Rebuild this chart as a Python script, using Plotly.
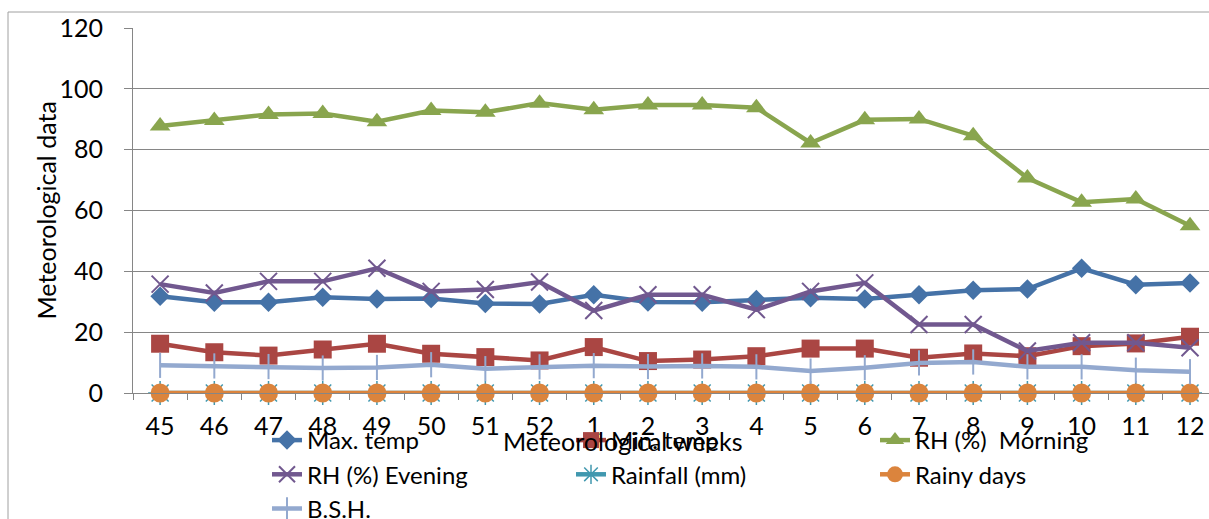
import plotly.graph_objects as go

weeks = ["45", "46", "47", "48", "49", "50", "51", "52", "1", "2", "3", "4",
         "5", "6", "7", "8", "9", "10", "11", "12"]
max_temp = [31.8, 29.8, 29.8, 31.5, 30.9, 31.1, 29.4, 29.3, 32.3, 29.9, 29.8, 30.7,
            31.3, 30.9, 32.3, 33.8, 34.2, 41.0, 35.6, 36.2]
min_temp = [16.2, 13.4, 12.3, 14.3, 16.2, 12.9, 11.8, 10.7, 15.1, 10.5, 11.0, 12.1,
            14.6, 14.6, 11.6, 13.0, 12.1, 15.4, 16.3, 18.5]
rh_morning = [87.8, 89.6, 91.6, 91.9, 89.2, 92.9, 92.3, 95.3, 93.1, 94.7, 94.7, 93.8,
              82.2, 89.8, 90.1, 84.6, 70.7, 62.7, 63.8, 55.0]
rh_evening = [35.8, 32.9, 36.7, 36.7, 41.0, 33.4, 34.0, 36.5, 27.1, 32.3, 32.3, 27.4,
              33.4, 36.2, 22.5, 22.5, 13.8, 16.5, 16.5, 14.9]
rainfall = [0] * 20
rainy_days = [0] * 20
bsh = [9.1, 8.9, 8.7, 8.2, 8.4, 9.3, 8.0, 8.6, 9.0, 8.7, 8.9, 8.6,
       7.2, 8.3, 9.9, 10.2, 8.6, 8.6, 7.5, 7.0]

FONT = "Lato, Roboto, Liberation Sans, Arial, sans-serif"
FS = 25
GRID = "#868686"

series = [
    ("Max. temp", max_temp, "#4572A7", dict(symbol="diamond", size=15)),
    ("Min. temp", min_temp, "#AA4643", dict(symbol="square", size=18)),
    ("RH (%)\u00a0 Morning", rh_morning, "#89A54E", dict(symbol="triangle-up", size=18)),
    ("RH (%) Evening", rh_evening, "#71588F",
     dict(symbol="x-thin", size=17, line=dict(width=2, color="#71588F"))),
    ("Rainfall (mm)", rainfall, "#4198AF",
     dict(symbol="asterisk", size=20, line=dict(width=1.5, color="#4198AF"))),
    ("Rainy days", rainy_days, "#DB843D", dict(symbol="circle", size=19)),
    ("B.S.H.", bsh, "#93A9CF",
     dict(symbol="line-ns", size=18, line=dict(width=2, color="#93A9CF"))),
]

fig = go.Figure()
for name, vals, color, mk in series:
    mk = dict(mk)
    mk.setdefault("color", color)
    fig.add_trace(go.Scatter(
        x=weeks, y=vals, name=name, mode="lines+markers",
        line=dict(color=color, width=4.5), marker=mk, cliponaxis=False,
    ))

W, H = 1209, 519
L, T, B = 133, 28, 126
plot_w = W - L
plot_h = H - T - B

def px_x(p):
    return (p - L) / plot_w

def px_y(p):
    return (H - B - p) / plot_h

fig.update_layout(
    width=W, height=H,
    margin=dict(l=L, r=0, t=T, b=B, pad=0, autoexpand=False),
    paper_bgcolor="white", plot_bgcolor="white",
    font=dict(family=FONT, size=FS, color="black"),
    showlegend=True,
    legend=dict(
        orientation="h", x=px_x(267), y=px_y(418), xanchor="left", yanchor="top",
        entrywidth=259, entrywidthmode="pixels",
        font=dict(family=FONT, size=24, color="black"),
        bgcolor="rgba(0,0,0,0)", tracegroupgap=0,
    ),
    xaxis=dict(
        type="category", categoryorder="array", categoryarray=weeks,
        range=[-0.5, 19.35], showgrid=False, zeroline=False,
        showline=True, linecolor=GRID, linewidth=1,
        ticks="outside", tickson="boundaries", ticklen=6, tickcolor=GRID,
        tickfont=dict(family=FONT, size=FS, color="black"),
        ticklabelstandoff=11,
    ),
    yaxis=dict(
        range=[0, 120], tickvals=[0, 20, 40, 60, 80, 100, 120],
        showgrid=True, gridcolor=GRID, gridwidth=1, zeroline=False,
        showline=True, linecolor=GRID, linewidth=1,
        ticks="outside", ticklen=8, tickcolor=GRID,
        tickfont=dict(family=FONT, size=FS, color="black"),
        ticklabelstandoff=16,
    ),
    annotations=[
        dict(text="Meteorological data", xref="paper", yref="paper",
             x=px_x(45), y=0.5, xanchor="center", yanchor="middle",
             textangle=-90, showarrow=False,
             font=dict(family=FONT, size=FS, color="black")),
        dict(text="Meteorological weeks", xref="paper", yref="paper",
             x=px_x(623), y=px_y(441), xanchor="center", yanchor="middle",
             showarrow=False, font=dict(family=FONT, size=FS, color="black")),
    ],
    shapes=[
        dict(type="rect", xref="paper", yref="paper",
             x0=px_x(8), x1=px_x(1230), y0=px_y(560), y1=px_y(12),
             line=dict(color="#A0A0A0", width=1), layer="below"),
    ],
)

fig.write_html("out.html")
